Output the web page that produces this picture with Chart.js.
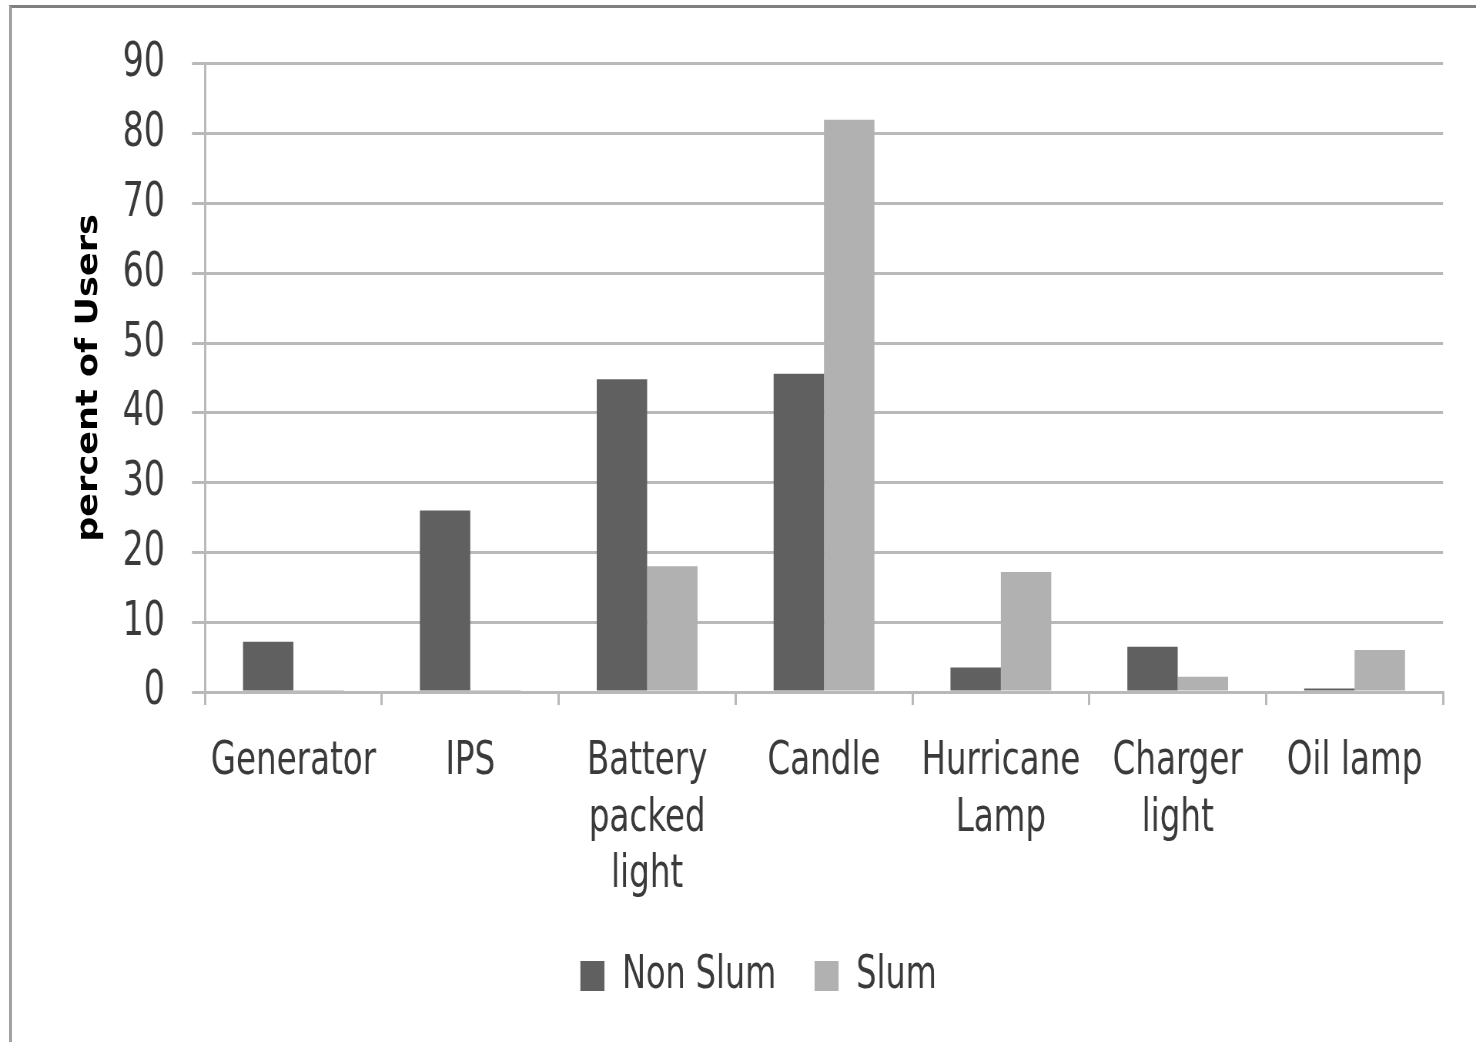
<!DOCTYPE html>
<html>
<head>
<meta charset="utf-8">
<script src="https://cdn.jsdelivr.net/npm/chart.js@4/dist/chart.umd.min.js"></script>
<style>
  html, body { margin: 0; padding: 0; background: #ffffff; overflow: hidden; }
  #wrap { position: relative; width: 1476px; height: 1042px; }
  #frame {
    position: absolute; left: 9px; top: 5px; width: 1500px; height: 1100px;
    border-top: 3px solid #808080; border-left: 3px solid #a2a2a2;
  }
  #chart { position: absolute; left: 0; top: 0; }
</style>
</head>
<body>
<div id="wrap">
  <div id="frame"></div>
  <canvas id="chart"></canvas>
</div>
<script>
// Backup light sources used by households
const categories = [
  'Generator',
  'IPS',
  ['Battery', 'packed', 'light'],
  'Candle',
  ['Hurricane', 'Lamp'],
  ['Charger', 'light'],
  'Oil lamp'
];
const nonSlum = [7.2, 26, 44.8, 45.6, 3.5, 6.5, 0.5];
const slum = [0.3, 0.3, 18, 82, 17.2, 2.2, 6];
const yTicks = [0, 10, 20, 30, 40, 50, 60, 70, 80, 90];

// The chart is laid out on a wider canvas and shown condensed to 1476px,
// giving the tall, narrow lettering of the original figure.
const SX = 0.77;
const W = Math.round(1476 / SX);
const hx = px => px / SX;   // horizontal display pixels -> canvas pixels

const canvas = document.getElementById('chart');
canvas.width = W;
canvas.height = 1042;
canvas.style.width = '1476px';
canvas.style.height = '1042px';

const FONT = "'DejaVu Sans Condensed', 'DejaVu Sans', sans-serif";
const GRID = '#b9b9b9';
const TEXT = '#3a3a3a';

// Nudges the legend block to the right of the canvas centre.
const legendShift = {
  id: 'legendShift',
  afterLayout(chart) {
    const d = hx(30);
    chart.legend.left += d;
    chart.legend.right += d;
  }
};

new Chart(canvas, {
  type: 'bar',
  data: {
    labels: categories,
    datasets: [
      { label: 'Non Slum', data: nonSlum, backgroundColor: '#606060', borderWidth: 0 },
      { label: 'Slum', data: slum, backgroundColor: '#b1b1b1', borderWidth: 0 }
    ]
  },
  plugins: [legendShift],
  options: {
    responsive: false,
    devicePixelRatio: 1,
    animation: false,
    layout: { padding: { left: hx(14), top: 60, right: hx(33), bottom: 33 } },
    datasets: { bar: { categoryPercentage: 0.57, barPercentage: 1.0 } },
    plugins: {
      tooltip: { enabled: false },
      legend: {
        position: 'bottom',
        labels: {
          font: { family: FONT, size: 46 },
          color: TEXT,
          boxWidth: hx(24),
          boxHeight: 30,
          padding: 50
        }
      }
    },
    scales: {
      x: {
        grid: {
          offset: true, drawOnChartArea: false, drawTicks: true,
          tickLength: 13, color: GRID, lineWidth: 3
        },
        border: { display: true, color: GRID, width: 3 },
        ticks: {
          font: { family: FONT, size: 47, lineHeight: 1.21 },
          color: TEXT, padding: 28, maxRotation: 0, autoSkip: false
        },
        afterFit: s => { s.height = 211; }
      },
      y: {
        min: 0, max: 90,
        afterBuildTicks: s => { s.ticks = yTicks.map(v => ({ value: v })); },
        grid: { color: GRID, lineWidth: 3, tickLength: hx(13), drawTicks: true },
        border: { display: true, color: GRID, width: 3 },
        ticks: {
          font: { family: FONT, size: 48 },
          color: TEXT, padding: hx(27)
        },
        title: {
          display: true, text: 'percent of Users', color: '#000000',
          font: { family: FONT, size: 39, weight: 'bold' },
          padding: { top: hx(89 - 14) - 23, bottom: 0 }
        },
        afterFit: s => { s.width = hx(205 - 14); }
      }
    }
  }
});
</script>
</body>
</html>
